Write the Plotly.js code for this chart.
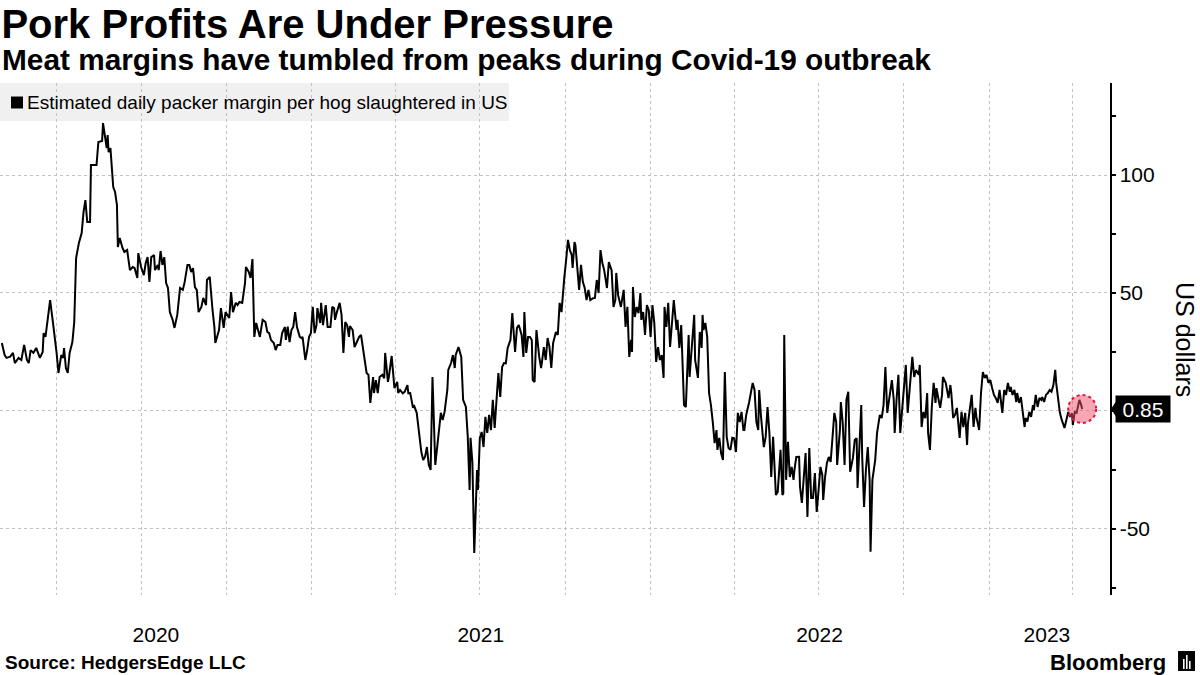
<!DOCTYPE html>
<html>
<head>
<meta charset="utf-8">
<script src="https://cdn.plot.ly/plotly-3.0.1.min.js"></script>
<style>
  html, body { margin: 0; padding: 0; background: #fff; }
  #chart { width: 1200px; height: 675px; }
</style>
</head>
<body>
<div id="chart"></div>
<script>
// Estimated daily packer margin per hog slaughtered in US (US dollars)
const dates = [
'2020-02-02','2020-02-05','2020-02-07','2020-02-11','2020-02-14','2020-02-16','2020-02-20','2020-02-23','2020-02-26','2020-02-29',
'2020-03-02','2020-03-04','2020-03-07','2020-03-10','2020-03-14','2020-03-17','2020-03-18','2020-03-20','2020-03-23','2020-03-25',
'2020-03-28','2020-03-30','2020-04-01','2020-04-03','2020-04-06','2020-04-08','2020-04-09','2020-04-11','2020-04-13','2020-04-15',
'2020-04-18','2020-04-20','2020-04-22','2020-04-25','2020-04-28','2020-04-30','2020-05-02','2020-05-04','2020-05-07','2020-05-08',
'2020-05-14','2020-05-16','2020-05-20','2020-05-21','2020-05-23','2020-05-25','2020-05-26','2020-05-27','2020-05-29','2020-06-01',
'2020-06-03','2020-06-05','2020-06-06','2020-06-08','2020-06-11','2020-06-13','2020-06-16','2020-06-19','2020-06-22','2020-06-24',
'2020-06-27','2020-06-28','2020-07-01','2020-07-04','2020-07-06','2020-07-08','2020-07-10','2020-07-12','2020-07-15','2020-07-16',
'2020-07-19','2020-07-20','2020-07-22','2020-07-24','2020-07-26','2020-07-28','2020-07-30','2020-08-01','2020-08-04','2020-08-06',
'2020-08-09','2020-08-12','2020-08-15','2020-08-17','2020-08-20','2020-08-22','2020-08-24','2020-08-26','2020-08-28','2020-08-30',
'2020-09-01','2020-09-04','2020-09-06','2020-09-09','2020-09-10','2020-09-13','2020-09-16','2020-09-18','2020-09-19','2020-09-21',
'2020-09-23','2020-09-25','2020-09-28','2020-09-30','2020-10-04','2020-10-06','2020-10-08','2020-10-11','2020-10-13','2020-10-15',
'2020-10-18','2020-10-21','2020-10-22','2020-10-25','2020-10-27','2020-10-29','2020-10-31','2020-11-02','2020-11-04','2020-11-06',
'2020-11-09','2020-11-12','2020-11-14','2020-11-16','2020-11-18','2020-11-21','2020-11-23','2020-11-25','2020-11-28','2020-11-30',
'2020-12-03','2020-12-04','2020-12-06','2020-12-08','2020-12-10','2020-12-12','2020-12-14','2020-12-16','2020-12-19','2020-12-21',
'2020-12-22','2020-12-25','2020-12-27','2020-12-29','2020-12-31','2021-01-02','2021-01-04','2021-01-06','2021-01-07','2021-01-10',
'2021-01-11','2021-01-13','2021-01-16','2021-01-18','2021-01-21','2021-01-23','2021-01-25','2021-01-26','2021-01-28','2021-01-31',
'2021-02-02','2021-02-04','2021-02-06','2021-02-08','2021-02-10','2021-02-11','2021-02-14','2021-02-16','2021-02-18','2021-02-21',
'2021-02-23','2021-02-25','2021-02-27','2021-03-01','2021-03-03','2021-03-05','2021-03-08','2021-03-09','2021-03-11','2021-03-13',
'2021-03-15','2021-03-18','2021-03-20','2021-03-21','2021-03-24','2021-03-25','2021-03-28','2021-03-31','2021-04-03','2021-04-04',
'2021-04-06','2021-04-09','2021-04-11','2021-04-14','2021-04-15','2021-04-17','2021-04-20','2021-04-21','2021-04-24','2021-04-27',
'2021-04-29','2021-05-01','2021-05-03','2021-05-05','2021-05-07','2021-05-09','2021-05-11','2021-05-14','2021-05-17','2021-05-18',
'2021-05-20','2021-05-22','2021-05-24','2021-05-27','2021-05-28','2021-05-31','2021-06-02','2021-06-04','2021-06-05','2021-06-08',
'2021-06-11','2021-06-13','2021-06-16','2021-06-18','2021-06-20','2021-06-21','2021-06-23','2021-06-25','2021-06-27','2021-06-28',
'2021-06-29','2021-07-01','2021-07-03','2021-07-05','2021-07-07','2021-07-09','2021-07-11','2021-07-13','2021-07-15','2021-07-17',
'2021-07-19','2021-07-21','2021-07-23','2021-07-25','2021-07-27','2021-07-29','2021-07-31','2021-08-03','2021-08-05','2021-08-08',
'2021-08-10','2021-08-12','2021-08-15','2021-08-17','2021-08-18','2021-08-20','2021-08-22','2021-08-24','2021-08-26','2021-08-27',
'2021-08-29','2021-08-31','2021-09-03','2021-09-05','2021-09-06','2021-09-08','2021-09-10','2021-09-12','2021-09-14','2021-09-16',
'2021-09-18','2021-09-21','2021-09-23','2021-09-25','2021-09-27','2021-09-29','2021-09-30','2021-10-02','2021-10-04','2021-10-06',
'2021-10-08','2021-10-09','2021-10-11','2021-10-12','2021-10-14','2021-10-16','2021-10-18','2021-10-20','2021-10-22','2021-10-24',
'2021-10-26','2021-10-28','2021-10-31','2021-11-02','2021-11-04','2021-11-06','2021-11-08','2021-11-10','2021-11-12','2021-11-15',
'2021-11-17','2021-11-20','2021-11-22','2021-11-24','2021-11-25','2021-11-27','2021-11-30','2021-12-01','2021-12-03','2021-12-05',
'2021-12-07','2021-12-09','2021-12-11','2021-12-12','2021-12-13','2021-12-15','2021-12-17','2021-12-19','2021-12-21','2021-12-22',
'2021-12-24','2021-12-26','2021-12-28','2021-12-30','2021-12-31','2022-01-01','2022-01-03','2022-01-05','2022-01-07','2022-01-09',
'2022-01-11','2022-01-13','2022-01-15','2022-01-16','2022-01-18','2022-01-20','2022-01-22','2022-01-24','2022-01-26','2022-01-29',
'2022-01-30','2022-02-01','2022-02-03','2022-02-06','2022-02-08','2022-02-11','2022-02-12','2022-02-14','2022-02-17','2022-02-18',
'2022-02-21','2022-02-23','2022-02-25','2022-02-26','2022-02-27','2022-03-01','2022-03-03','2022-03-05','2022-03-07','2022-03-09',
'2022-03-11','2022-03-13','2022-03-14','2022-03-16','2022-03-18','2022-03-20','2022-03-22','2022-03-24','2022-03-26','2022-03-28',
'2022-03-30','2022-04-01','2022-04-03','2022-04-05','2022-04-07','2022-04-09','2022-04-11','2022-04-12','2022-04-14','2022-04-17',
'2022-04-19','2022-04-21','2022-04-23','2022-04-25','2022-04-27','2022-04-28','2022-04-30','2022-05-03','2022-05-05','2022-05-07',
'2022-05-09','2022-05-11','2022-05-13','2022-05-14','2022-05-16','2022-05-18','2022-05-21','2022-05-23','2022-05-24','2022-05-25',
'2022-05-27','2022-05-29','2022-05-31','2022-06-02','2022-06-04','2022-06-05','2022-06-07','2022-06-10','2022-06-11','2022-06-13',
'2022-06-15','2022-06-17','2022-06-19','2022-06-21','2022-06-23','2022-06-25','2022-06-27','2022-06-29','2022-07-01','2022-07-03',
'2022-07-05','2022-07-06','2022-07-08','2022-07-10','2022-07-12','2022-07-14','2022-07-15','2022-07-18','2022-07-20','2022-07-21',
'2022-07-24','2022-07-25','2022-07-27','2022-07-29','2022-07-31','2022-08-02','2022-08-04','2022-08-07','2022-08-09','2022-08-11',
'2022-08-12','2022-08-14','2022-08-16','2022-08-17','2022-08-19','2022-08-21','2022-08-23','2022-08-25','2022-08-26','2022-08-28',
'2022-08-31','2022-09-02','2022-09-05','2022-09-07','2022-09-09','2022-09-11','2022-09-13','2022-09-16','2022-09-18','2022-09-20',
'2022-09-21','2022-09-23','2022-09-25','2022-09-27','2022-09-29','2022-10-01','2022-10-03','2022-10-05','2022-10-08','2022-10-10',
'2022-10-12','2022-10-14','2022-10-17','2022-10-18','2022-10-20','2022-10-22','2022-10-24','2022-10-26','2022-10-27','2022-10-29',
'2022-10-31','2022-11-02','2022-11-04','2022-11-05','2022-11-07','2022-11-09','2022-11-11','2022-11-12','2022-11-15','2022-11-18',
'2022-11-20','2022-11-21','2022-11-23','2022-11-25','2022-11-27','2022-11-29','2022-11-30','2022-12-02','2022-12-04','2022-12-06',
'2022-12-08','2022-12-09','2022-12-11','2022-12-13','2022-12-15','2022-12-17','2022-12-18','2022-12-21','2022-12-23','2022-12-25',
'2022-12-27','2022-12-29','2022-12-31','2023-01-02','2023-01-04','2023-01-06','2023-01-08','2023-01-10','2023-01-12','2023-01-14',
'2023-01-15','2023-01-17','2023-01-19','2023-01-21','2023-01-23','2023-01-24','2023-01-26','2023-01-28','2023-01-30','2023-01-31',
'2023-02-02','2023-02-04','2023-02-06','2023-02-08','2023-02-09','2023-02-11','2023-02-13','2023-02-15','2023-02-17','2023-02-18',
'2023-02-20','2023-02-22','2023-02-24','2023-02-26','2023-02-27','2023-03-01','2023-03-03','2023-03-05','2023-03-07','2023-03-09',
'2023-03-11','2023-03-13','2023-03-14','2023-03-16','2023-03-18','2023-03-20','2023-03-22','2023-03-23','2023-03-25','2023-03-27',
'2023-03-29','2023-03-31','2023-04-01','2023-04-03','2023-04-05','2023-04-06','2023-04-08','2023-04-10','2023-04-11'
];

const margins = [
28.8,23.7,22.5,23.0,24.6,20.3,22.5,21.6,28.0,21.6,
20.3,25.8,24.6,26.7,22.5,25.0,33.0,31.4,40.7,47.0,
37.7,32.2,24.6,16.1,23.7,22.5,26.7,18.2,16.1,24.6,
29.2,37.7,64.8,71.2,75.4,84.3,89.4,80.1,80.1,104.2,
104.2,114.0,114.4,122.0,116.9,111.4,116.9,109.7,111.4,94.9,
92.8,87.3,69.5,73.3,69.1,67.4,68.2,59.7,61.0,60.6,
56.4,66.9,61.0,57.6,62.7,65.2,54.7,65.2,66.1,59.7,
61.9,59.7,67.8,61.9,65.2,54.2,52.1,41.9,38.6,35.2,
40.7,52.1,51.3,54.7,61.9,61.9,58.9,60.5,52.5,51.3,
41.9,44.1,47.9,44.9,55.5,56.8,42.8,35.6,28.8,31.4,
34.3,43.6,35.2,41.9,39.4,50.4,41.9,45.8,44.9,46.2,
45.8,54.2,61.0,58.9,56.4,64.4,31.4,37.3,34.3,31.4,
38.6,37.7,33.5,33.0,30.1,28.8,25.8,28.0,28.0,33.0,
35.6,30.1,35.7,29.2,34.3,35.6,41.9,35.6,31.4,30.9,
31.4,21.6,25.8,31.4,33.0,44.1,33.0,36.4,43.6,37.3,
45.8,36.4,44.9,35.6,35.6,44.1,43.5,38.6,41.9,45.8,
40.7,24.6,37.7,36.4,31.4,36.0,34.3,27.1,28.8,31.4,
32.2,27.1,21.6,16.1,15.3,3.4,14.4,7.6,13.1,7.6,
14.4,15.3,13.9,24.6,12.3,14.5,23.3,9.7,12.3,7.6,
8.9,7.5,8.1,11.0,7.5,7.6,1.3,2.5,-0.8,-11.4,
-17.4,-20.8,-19.4,-15.3,-22.9,-25.0,14.4,-22.9,-12.3,-8.1,
-0.8,-3.8,-0.4,8.9,17.4,20.3,23.7,18.2,23.7,27.1,
22.9,4.7,1.7,-11.0,-33.5,-11.4,-22.0,-60.2,-36.3,-25.0,
-33.5,-11.4,-8.9,-15.3,-2.5,-9.3,-1.7,-8.1,4.7,-7.2,
4.7,16.1,5.9,18.6,20.3,20.2,26.7,30.1,41.5,25.0,
35.2,36.4,32.2,22.9,41.9,24.6,31.4,31.4,30.1,13.1,
12.3,34.3,22.9,18.2,20.9,27.1,21.6,30.9,27.2,18.2,
28.8,33.5,32.2,45.8,41.9,54.2,56.4,64.0,72.5,68.2,
66.1,60.6,71.6,70.3,61.0,51.3,61.9,54.7,52.1,47.0,
51.3,47.0,47.8,47.9,55.5,50.0,68.2,62.7,59.7,52.1,
63.1,59.7,44.1,47.0,58.5,49.1,44.1,46.3,51.3,35.6,
44.1,22.9,30.1,25.0,52.5,39.8,44.1,41.4,50.0,38.6,
41.9,32.2,44.9,42.8,35.6,31.4,44.9,37.3,20.8,27.1,
21.6,23.7,14.0,44.1,35.6,45.8,27.1,38.6,47.0,34.3,
38.6,26.7,36.4,2.5,1.7,32.2,14.4,25.0,40.7,21.6,
14.0,33.5,26.7,40.7,34.3,37.3,31.4,7.6,2.5,-4.7,
-13.6,-8.1,-16.5,-11.4,-17.9,-20.8,16.5,-11.0,-15.7,-16.5,
-11.4,-11.6,-17.4,-0.8,-4.7,-0.4,-8.1,-8.1,-1.7,3.4,
8.1,11.9,8.9,-4.7,-8.1,8.9,-2.5,-15.3,-11.0,1.7,
-9.3,-28.0,-11.0,-20.8,-35.6,-34.3,-16.5,-35.6,-34.9,32.2,
-29.2,-13.1,-28.0,-23.7,-29.2,-25.0,-19.5,-19.4,-32.2,-39.0,
-28.0,-17.8,-44.9,-15.7,-36.9,-36.9,-26.3,-42.8,-33.5,-23.7,
-27.1,-37.7,-28.0,-22.0,-19.5,-21.6,-16.5,-0.8,-4.7,-22.9,
-8.1,3.8,-5.1,-22.9,4.7,8.1,-25.8,-19.9,-12.3,-11.6,
-32.6,-11.0,2.5,-19.5,-40.7,-25.0,-15.3,-29.2,-59.7,-29.2,
-20.8,-9.3,-1.7,-3.0,2.5,18.6,-0.8,7.6,13.1,4.7,
-9.3,4.7,15.3,-9.3,0.4,11.9,19.5,-0.8,14.0,22.9,
14.4,17.4,15.3,19.5,-6.8,-0.4,-3.1,7.6,-9.3,-16.5,
1.7,11.9,3.4,9.7,5.4,1.3,6.8,14.4,11.9,5.5,
11.0,7.6,-3.0,-1.7,1.3,-10.2,-11.4,-0.4,-6.8,-0.8,
-14.4,-5.1,1.7,6.8,-6.8,1.3,-2.4,-8.1,7.6,16.5,
14.0,15.3,11.9,13.1,9.7,6.8,5.4,3.4,8.9,3.8,
-0.8,8.9,6.8,11.9,8.1,10.2,6.8,8.9,3.8,7.6,
3.4,5.9,-0.8,-6.8,-3.0,-4.5,-0.4,-2.5,2.5,0.4,
6.8,1.7,5.5,4.7,5.9,3.8,6.8,7.6,8.9,8.2,
11.0,17.4,11.9,4.7,-0.8,-3.8,-5.9,-7.2,-3.8,-0.4,
-2.5,-1.0,-5.9,-0.4,-0.8,1.7,4.7,2.5,0.85
];

const seriesName = 'Estimated daily packer margin per hog slaughtered in US';
const yearTickDates = ['2020-07-17', '2021-07-02', '2022-07-02', '2023-03-04'];
const yearTickLabels = ['2020', '2021', '2022', '2023'];
const yTickVals = [-50, 0, 50, 100];
const yTickLabels = ['-50', '', '50', '100'];   // 0 sits under the last-value tag
const xRange = ['2020-01-31', '2023-05-11'];
const yRange = [-78, 139];

const lastDate = dates[dates.length - 1];
const lastValue = margins[margins.length - 1];

const FONT = 'Liberation Sans, Arial, Helvetica, sans-serif';

const trace = {
  type: 'scatter',
  mode: 'lines',
  x: dates,
  y: margins,
  name: seriesName,
  line: { color: '#000000', width: 2 },
  hoverinfo: 'x+y'
};

const layout = {
  width: 1200,
  height: 675,
  margin: { l: 0, r: 90, t: 83, b: 80 },
  paper_bgcolor: '#ffffff',
  plot_bgcolor: 'rgba(0,0,0,0)',
  showlegend: false,
  font: { family: FONT, color: '#000000' },
  title: {
    text: 'Pork Profits Are Under Pressure',
    font: { family: FONT, size: 40, weight: 'bold', color: '#000000' },
    xref: 'container', x: 0.0012, xanchor: 'left',
    yref: 'container', y: 0.964, yanchor: 'middle'
  },
  xaxis: {
    type: 'date',
    range: xRange,
    tickvals: yearTickDates,
    ticktext: yearTickLabels,
    ticks: '',
    showgrid: false,
    showline: false,
    zeroline: false,
    tickfont: { family: FONT, size: 21, color: '#000000' },
    ticklabelstandoff: 25,
    minor: {
      tick0: '2020-01-01', dtick: 'M3',
      showgrid: true, gridcolor: '#c2c2c2', gridwidth: 1, griddash: 'dot',
      ticks: ''
    }
  },
  yaxis: {
    side: 'right',
    range: yRange,
    tickmode: 'array',
    tickvals: yTickVals,
    ticktext: yTickLabels,
    showline: true, linecolor: '#000000', linewidth: 1.5,
    ticks: 'outside', ticklen: 4, tickwidth: 1.5, tickcolor: '#000000',
    showgrid: true, gridcolor: '#c2c2c2', gridwidth: 1, griddash: 'dot',
    zeroline: false,
    tickfont: { family: FONT, size: 21, color: '#000000' },
    minor: {
      tick0: 0, dtick: 25, ticks: 'outside', ticklen: 4, tickwidth: 1.5, tickcolor: '#000000',
      showgrid: false
    }
  },
  shapes: [
    // legend background
    { type: 'rect', xref: 'paper', yref: 'paper', x0: 0, x1: 0.4586, y0: 0.9258, y1: 1.0,
      fillcolor: '#f0f0f0', line: { width: 0 }, layer: 'below' },
    // legend swatch
    { type: 'rect', xref: 'paper', yref: 'paper', x0: 0.0099, x1: 0.0207, y0: 0.9502, y1: 0.9736,
      fillcolor: '#000000', line: { width: 0 } },
    // last point highlight
    { type: 'circle', xref: 'x', yref: 'y', xsizemode: 'pixel', ysizemode: 'pixel',
      xanchor: lastDate, yanchor: lastValue, x0: -14, x1: 14, y0: -14, y1: 14,
      fillcolor: 'rgba(240,80,105,0.5)', line: { color: '#e0143c', width: 2, dash: 'dot' } },
    // pointer of the last-value tag
    { type: 'path', xref: 'paper', yref: 'y', xsizemode: 'pixel', ysizemode: 'pixel',
      xanchor: 1, yanchor: lastValue, path: 'M1,0 L7,9 L7,-9 Z',
      fillcolor: '#000000', line: { width: 0 } },
    // logo mark
    { type: 'rect', xref: 'paper', yref: 'paper', x0: 1.0613, x1: 1.0766, y0: -0.1484, y1: -0.1094,
      fillcolor: '#000000', line: { width: 0 } },
    { type: 'rect', xref: 'paper', yref: 'paper', x0: 1.0658, x1: 1.0672, y0: -0.1445, y1: -0.1250,
      fillcolor: '#ffffff', line: { width: 0 } },
    { type: 'rect', xref: 'paper', yref: 'paper', x0: 1.0685, x1: 1.0699, y0: -0.1445, y1: -0.1172,
      fillcolor: '#ffffff', line: { width: 0 } },
    { type: 'rect', xref: 'paper', yref: 'paper', x0: 1.0712, x1: 1.0726, y0: -0.1445, y1: -0.1289,
      fillcolor: '#ffffff', line: { width: 0 } }
  ],
  annotations: [
    { text: 'Meat margins have tumbled from peaks during Covid-19 outbreak',
      xref: 'paper', yref: 'paper', x: 0.0, y: 1.0468, xanchor: 'left', yanchor: 'middle',
      showarrow: false, font: { family: FONT, size: 29.8, weight: 'bold', color: '#000000' } },
    { text: seriesName,
      xref: 'paper', yref: 'paper', x: 0.0225, y: 0.962, xanchor: 'left', yanchor: 'middle',
      showarrow: false, font: { family: FONT, size: 19, color: '#000000' } },
    { text: 'US dollars',
      xref: 'paper', yref: 'paper', x: 1.0676, y: 0.5, xanchor: 'center', yanchor: 'middle',
      textangle: 90, showarrow: false, font: { family: FONT, size: 25, color: '#000000' } },
    { text: lastValue.toFixed(2),
      xref: 'paper', yref: 'y', x: 1.0045, y: lastValue, xanchor: 'left', yanchor: 'middle',
      showarrow: false, bgcolor: '#000000', width: 54, height: 26, borderpad: 0,
      font: { family: FONT, size: 21, color: '#ffffff' } },
    { text: 'Source: HedgersEdge LLC',
      xref: 'paper', yref: 'paper', x: 0.0027, y: -0.1309, xanchor: 'left', yanchor: 'middle',
      showarrow: false, font: { family: FONT, size: 19, weight: 'bold', color: '#000000' } },
    { text: 'Bloomberg',
      xref: 'paper', yref: 'paper', x: 1.0523, y: -0.1309, xanchor: 'right', yanchor: 'middle',
      showarrow: false, font: { family: FONT, size: 22, weight: 'bold', color: '#000000' } }
  ]
};

Plotly.newPlot('chart', [trace], layout, { displayModeBar: false, staticPlot: true });
</script>
</body>
</html>
